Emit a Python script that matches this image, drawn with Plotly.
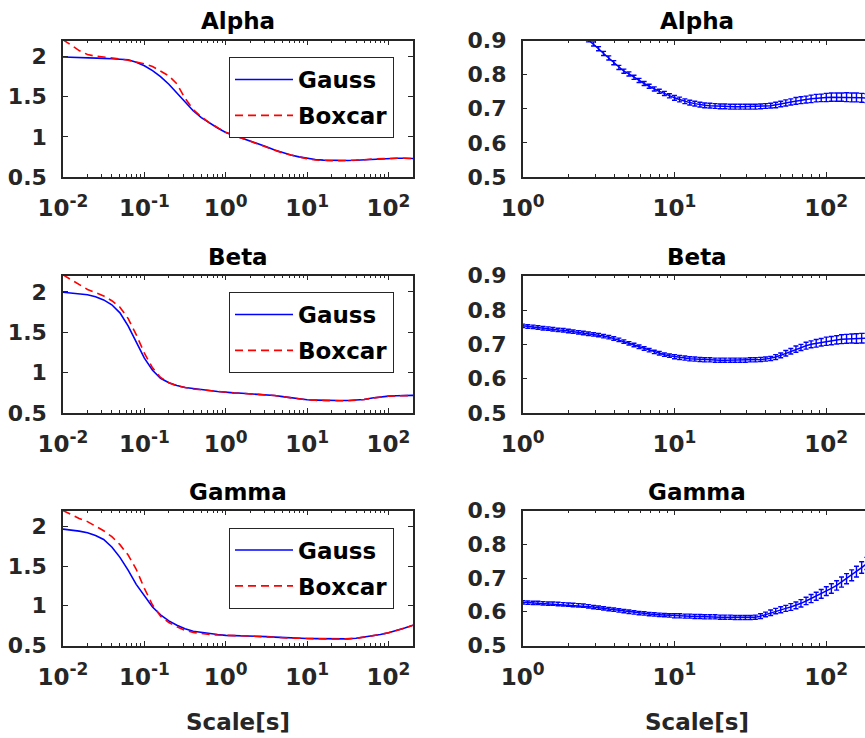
import plotly.graph_objects as go

# ---------------- data ----------------
TITLES = ["Alpha", "Beta", "Gamma"]
SERIES_NAMES = ["Gauss", "Boxcar"]
X_LABEL = "Scale[s]"

X_LEFT = [0.0100, 0.0126, 0.0158, 0.0200, 0.0251, 0.0316, 0.0398, 0.0501, 0.0631, 0.0794,
          0.100, 0.126, 0.158, 0.200, 0.251, 0.316, 0.398, 0.501, 0.631, 0.794,
          1.00, 1.26, 1.58, 2.00, 2.51, 3.16, 3.98, 5.01, 6.31, 7.94,
          10.0, 12.6, 15.8, 20.0, 25.1, 31.6, 39.8, 50.1, 63.1, 79.4,
          100, 126, 158, 200]

ALPHA_GAUSS = [1.995, 1.993, 1.990, 1.987, 1.983, 1.978, 1.972, 1.966, 1.960, 1.930,
               1.885, 1.825, 1.750, 1.655, 1.545, 1.430, 1.325, 1.240, 1.170, 1.110,
               1.055, 1.020, 0.985, 0.950, 0.914, 0.876, 0.835, 0.800, 0.774, 0.751,
               0.732, 0.718, 0.710, 0.707, 0.706, 0.706, 0.708, 0.714, 0.723, 0.729,
               0.733, 0.734, 0.733, 0.730]
ALPHA_BOX = [2.210, 2.140, 2.075, 2.025, 2.005, 1.995, 1.985, 1.970, 1.955, 1.935,
             1.910, 1.875, 1.820, 1.760, 1.660, 1.480, 1.340, 1.250, 1.175, 1.112,
             1.056, 1.019, 0.984, 0.949, 0.913, 0.875, 0.834, 0.799, 0.773, 0.749,
             0.728, 0.712, 0.703, 0.702, 0.703, 0.704, 0.707, 0.714, 0.724, 0.730,
             0.733, 0.734, 0.733, 0.730]

BETA_GAUSS = [1.995, 1.985, 1.975, 1.965, 1.940, 1.900, 1.840, 1.740, 1.580, 1.380,
              1.180, 1.030, 0.930, 0.875, 0.840, 0.815, 0.800, 0.790, 0.778, 0.766,
              0.754, 0.749, 0.744, 0.739, 0.733, 0.727, 0.717, 0.703, 0.688, 0.674,
              0.664, 0.660, 0.655, 0.654, 0.654, 0.654, 0.657, 0.668, 0.686, 0.700,
              0.709, 0.713, 0.717, 0.718]
BETA_BOX = [2.210, 2.150, 2.090, 2.030, 1.990, 1.950, 1.890, 1.810, 1.670, 1.470,
            1.240, 1.060, 0.940, 0.875, 0.835, 0.812, 0.798, 0.788, 0.777, 0.765,
            0.753, 0.748, 0.743, 0.738, 0.732, 0.726, 0.716, 0.702, 0.687, 0.673,
            0.662, 0.657, 0.652, 0.651, 0.651, 0.652, 0.656, 0.667, 0.685, 0.699,
            0.708, 0.712, 0.716, 0.717]

GAMMA_GAUSS = [1.965, 1.955, 1.940, 1.920, 1.885, 1.835, 1.740, 1.610, 1.450, 1.270,
               1.120, 0.985, 0.885, 0.810, 0.755, 0.710, 0.680, 0.663, 0.650, 0.638,
               0.628, 0.626, 0.624, 0.621, 0.618, 0.612, 0.606, 0.600, 0.595, 0.591,
               0.588, 0.587, 0.585, 0.584, 0.583, 0.583, 0.592, 0.606, 0.619, 0.639,
               0.661, 0.688, 0.719, 0.755]
GAMMA_BOX = [2.200, 2.150, 2.100, 2.060, 2.000, 1.945, 1.870, 1.770, 1.640, 1.460,
             1.220, 1.010, 0.870, 0.790, 0.735, 0.690, 0.665, 0.648, 0.638, 0.632,
             0.626, 0.624, 0.622, 0.619, 0.616, 0.610, 0.604, 0.598, 0.593, 0.589,
             0.586, 0.585, 0.583, 0.582, 0.581, 0.581, 0.590, 0.605, 0.619, 0.639,
             0.661, 0.688, 0.719, 0.755]

X_RIGHT = [1.00, 1.08, 1.17, 1.26, 1.36, 1.47, 1.58, 1.71, 1.85, 2.00,
           2.15, 2.33, 2.51, 2.71, 2.93, 3.16, 3.41, 3.69, 3.98, 4.30,
           4.64, 5.01, 5.41, 5.84, 6.31, 6.81, 7.36, 7.94, 8.58, 9.26,
           10.0, 10.8, 11.7, 12.6, 13.6, 14.7, 15.8, 17.1, 18.5, 20.0,
           21.5, 23.3, 25.1, 27.1, 29.3, 31.6, 34.1, 36.9, 39.8, 43.0,
           46.4, 50.1, 54.1, 58.4, 63.1, 68.1, 73.6, 79.4, 85.8, 92.6,
           100, 108, 117, 126, 136, 147, 158, 171, 185, 200]

ALPHA_MEAN = [1.050, 1.040, 1.030, 1.020, 1.008, 0.996, 0.985, 0.973, 0.962, 0.950,
              0.938, 0.926, 0.914, 0.902, 0.890, 0.876, 0.862, 0.849, 0.835, 0.821,
              0.810, 0.802, 0.792, 0.783, 0.774, 0.766, 0.758, 0.751, 0.745, 0.738,
              0.732, 0.727, 0.722, 0.718, 0.715, 0.712, 0.710, 0.709, 0.708, 0.707,
              0.707, 0.706, 0.706, 0.706, 0.706, 0.706, 0.706, 0.707, 0.708, 0.709,
              0.711, 0.714, 0.717, 0.720, 0.723, 0.725, 0.727, 0.729, 0.731, 0.732,
              0.733, 0.734, 0.734, 0.734, 0.734, 0.733, 0.733, 0.732, 0.731, 0.730]
ALPHA_ERR = [0.006, 0.006, 0.006, 0.006, 0.006, 0.006, 0.006, 0.006, 0.006, 0.006,
             0.006, 0.006, 0.006, 0.006, 0.006, 0.006, 0.006, 0.006, 0.006, 0.006,
             0.006, 0.006, 0.006, 0.006, 0.006, 0.006, 0.006, 0.006, 0.006, 0.006,
             0.007, 0.007, 0.007, 0.007, 0.007, 0.007, 0.007, 0.007, 0.007, 0.007,
             0.007, 0.007, 0.007, 0.007, 0.007, 0.007, 0.007, 0.007, 0.007, 0.007,
             0.008, 0.008, 0.009, 0.009, 0.010, 0.010, 0.010, 0.011, 0.011, 0.011,
             0.012, 0.012, 0.012, 0.012, 0.013, 0.013, 0.013, 0.013, 0.013, 0.013]

BETA_MEAN = [0.754, 0.752, 0.751, 0.749, 0.747, 0.746, 0.744, 0.742, 0.741, 0.739,
             0.737, 0.735, 0.733, 0.731, 0.729, 0.727, 0.724, 0.721, 0.717, 0.713,
             0.708, 0.703, 0.698, 0.693, 0.688, 0.683, 0.678, 0.674, 0.670, 0.667,
             0.664, 0.662, 0.660, 0.658, 0.657, 0.656, 0.655, 0.655, 0.654, 0.654,
             0.654, 0.654, 0.654, 0.654, 0.654, 0.655, 0.655, 0.656, 0.657, 0.659,
             0.663, 0.668, 0.674, 0.680, 0.686, 0.691, 0.696, 0.700, 0.703, 0.706,
             0.709, 0.711, 0.713, 0.715, 0.716, 0.717, 0.717, 0.718, 0.718, 0.718]
BETA_ERR = [0.005, 0.005, 0.005, 0.005, 0.005, 0.005, 0.005, 0.005, 0.005, 0.005,
            0.005, 0.005, 0.005, 0.005, 0.005, 0.005, 0.005, 0.005, 0.005, 0.005,
            0.005, 0.005, 0.005, 0.005, 0.005, 0.005, 0.005, 0.005, 0.005, 0.005,
            0.006, 0.006, 0.006, 0.006, 0.006, 0.006, 0.006, 0.006, 0.006, 0.006,
            0.006, 0.006, 0.006, 0.006, 0.006, 0.006, 0.006, 0.006, 0.006, 0.006,
            0.007, 0.007, 0.008, 0.008, 0.009, 0.009, 0.010, 0.010, 0.011, 0.011,
            0.012, 0.012, 0.012, 0.013, 0.013, 0.013, 0.014, 0.014, 0.014, 0.014]

GAMMA_MEAN = [0.628, 0.627, 0.626, 0.626, 0.625, 0.624, 0.624, 0.623, 0.622, 0.621,
              0.620, 0.619, 0.618, 0.616, 0.614, 0.612, 0.610, 0.608, 0.606, 0.604,
              0.602, 0.600, 0.598, 0.596, 0.595, 0.593, 0.592, 0.591, 0.590, 0.589,
              0.588, 0.588, 0.587, 0.587, 0.586, 0.586, 0.585, 0.585, 0.585, 0.584,
              0.584, 0.584, 0.583, 0.583, 0.583, 0.583, 0.584, 0.587, 0.592, 0.597,
              0.602, 0.606, 0.610, 0.614, 0.619, 0.625, 0.632, 0.639, 0.646, 0.653,
              0.661, 0.669, 0.678, 0.688, 0.698, 0.708, 0.719, 0.731, 0.743, 0.755]
GAMMA_ERR = [0.005, 0.005, 0.005, 0.005, 0.005, 0.005, 0.005, 0.005, 0.005, 0.005,
             0.005, 0.005, 0.005, 0.005, 0.005, 0.005, 0.005, 0.005, 0.005, 0.005,
             0.005, 0.005, 0.005, 0.005, 0.005, 0.005, 0.005, 0.005, 0.005, 0.005,
             0.006, 0.006, 0.006, 0.006, 0.006, 0.006, 0.006, 0.006, 0.006, 0.006,
             0.006, 0.006, 0.006, 0.006, 0.006, 0.006, 0.006, 0.007, 0.007, 0.008,
             0.008, 0.009, 0.009, 0.010, 0.010, 0.011, 0.011, 0.012, 0.012, 0.013,
             0.013, 0.014, 0.014, 0.015, 0.015, 0.016, 0.016, 0.017, 0.018, 0.018]

LEFT_X_TICKVALS = [0.01, 0.1, 1, 10, 100]
LEFT_X_EXPONENTS = ["-2", "-1", "0", "1", "2"]
RIGHT_X_TICKVALS = [1, 10, 100]
RIGHT_X_EXPONENTS = ["0", "1", "2"]
LEFT_Y_TICKVALS = [0.5, 1, 1.5, 2]
LEFT_Y_TICKTEXT = ["0.5", "1", "1.5", "2"]
RIGHT_Y_TICKVALS = [0.5, 0.6, 0.7, 0.8, 0.9]
RIGHT_Y_TICKTEXT = ["0.5", "0.6", "0.7", "0.8", "0.9"]

LEFT_SERIES = [(ALPHA_GAUSS, ALPHA_BOX), (BETA_GAUSS, BETA_BOX), (GAMMA_GAUSS, GAMMA_BOX)]
RIGHT_SERIES = [(ALPHA_MEAN, ALPHA_ERR), (BETA_MEAN, BETA_ERR), (GAMMA_MEAN, GAMMA_ERR)]

# ---------------- layout ----------------
W, H = 865, 738
FONT = "DejaVu Sans"
AXC = "#262626"
BLUE = "#0000FF"
RED = "#FF0000"

LEFT_PX = (63, 413)
RIGHT_PX = (522.7, 865)
ROWS_PX = [(40.5, 177), (275.7, 413), (510.5, 645.5)]
LEGEND_TOP_PX = [57, 292, 527.5]
LEGEND_LEFT_PX = 229


def px_x(a, b):
    return [a / W, b / W]


def px_y(top, bottom):
    return [1 - bottom / H, 1 - top / H]


def pow_label(exp):
    return f"10<sup><span style='font-size:17px'>{exp}</span></sup>"


fig = go.Figure()
layout = dict(
    template="none",
    width=W, height=H,
    margin=dict(l=0, r=0, t=0, b=0, pad=0),
    paper_bgcolor="white", plot_bgcolor="white",
    font=dict(family=FONT, size=22, color=AXC, weight="bold"),
    showlegend=True,
    annotations=[],
)

tickfont = dict(family=FONT, size=22, color=AXC, weight="bold")
xtickfont = dict(family=FONT, size=23, color=AXC, weight="bold")

for r in range(3):
    li = 2 * r + 1
    ri = 2 * r + 2
    lx = "x" if li == 1 else f"x{li}"
    ly = "y" if li == 1 else f"y{li}"
    rx = f"x{ri}"
    ry = f"y{ri}"
    legname = "legend" if r == 0 else f"legend{r + 1}"

    gauss, box = LEFT_SERIES[r]
    fig.add_trace(go.Scatter(x=X_LEFT, y=gauss, mode="lines", name=SERIES_NAMES[0],
                             line=dict(color=BLUE, width=1.6), xaxis=lx, yaxis=ly,
                             legend=legname, legendgroup=f"g{r}"))
    fig.add_trace(go.Scatter(x=X_LEFT, y=box, mode="lines", name=SERIES_NAMES[1],
                             line=dict(color=RED, width=1.6, dash="8px,5px"), xaxis=lx, yaxis=ly,
                             legend=legname, legendgroup=f"b{r}"))

    mean, err = RIGHT_SERIES[r]
    fig.add_trace(go.Scatter(x=X_RIGHT, y=mean, mode="lines", showlegend=False,
                             line=dict(color=BLUE, width=1.5), xaxis=rx, yaxis=ry,
                             error_y=dict(type="data", array=err, visible=True,
                                          color=BLUE, thickness=1.4, width=2.5)))

    ydom = px_y(*ROWS_PX[r])
    minor = dict(ticks="inside", ticklen=3, tickcolor=AXC, dtick="D1", showgrid=False)
    common_x = dict(type="log", showgrid=False, zeroline=False, showline=True, linecolor=AXC,
                    linewidth=1.5, ticks="inside", ticklen=5, tickcolor=AXC, tickfont=xtickfont,
                    tickmode="array", minor=minor, ticklabelstandoff=10, automargin=False)
    common_y = dict(showgrid=False, zeroline=False, showline=True, linecolor=AXC, linewidth=1.5,
                    ticks="inside", ticklen=5, tickcolor=AXC, tickfont=tickfont, tickmode="array",
                    ticklabelstandoff=10, automargin=False)

    layout["xaxis" if li == 1 else f"xaxis{li}"] = dict(
        common_x, domain=px_x(*LEFT_PX), range=[-2, 2.301], anchor=ly, mirror="ticks",
        tickvals=LEFT_X_TICKVALS, ticktext=[pow_label(e) for e in LEFT_X_EXPONENTS])
    layout["yaxis" if li == 1 else f"yaxis{li}"] = dict(
        common_y, domain=ydom, range=[0.5, 2.2], anchor=lx, mirror="ticks",
        tickvals=LEFT_Y_TICKVALS, ticktext=LEFT_Y_TICKTEXT)
    layout[f"xaxis{ri}"] = dict(
        common_x, domain=px_x(*RIGHT_PX), range=[0, 2.255], anchor=ry, mirror="ticks",
        tickvals=RIGHT_X_TICKVALS, ticktext=[pow_label(e) for e in RIGHT_X_EXPONENTS])
    layout[f"yaxis{ri}"] = dict(
        common_y, domain=ydom, range=[0.5, 0.9], anchor=rx, mirror=False,
        tickvals=RIGHT_Y_TICKVALS, ticktext=RIGHT_Y_TICKTEXT)

    layout[legname] = dict(
        x=LEGEND_LEFT_PX / W, y=1 - LEGEND_TOP_PX[r] / H, xanchor="left", yanchor="top",
        bgcolor="white", bordercolor=AXC, borderwidth=1,
        font=dict(family=FONT, size=23, color="black", weight="bold"),
        itemwidth=58, tracegroupgap=3)

    title_y = 1 - (ROWS_PX[r][0] - 19) / H
    for (a, b) in (LEFT_PX, (RIGHT_PX[0], 872)):
        layout["annotations"].append(dict(
            text=TITLES[r], xref="paper", yref="paper", x=(a + b) / 2 / W, y=title_y,
            xanchor="center", yanchor="middle", showarrow=False,
            font=dict(family=FONT, size=23, color="black", weight="bold")))

for (a, b) in (LEFT_PX, (RIGHT_PX[0], 872)):
    layout["annotations"].append(dict(
        text=X_LABEL, xref="paper", yref="paper", x=(a + b) / 2 / W, y=1 - 722 / H,
        xanchor="center", yanchor="middle", showarrow=False,
        font=dict(family=FONT, size=23, color=AXC, weight="bold")))

fig.update_layout(**layout)
fig.write_html("out.html")
